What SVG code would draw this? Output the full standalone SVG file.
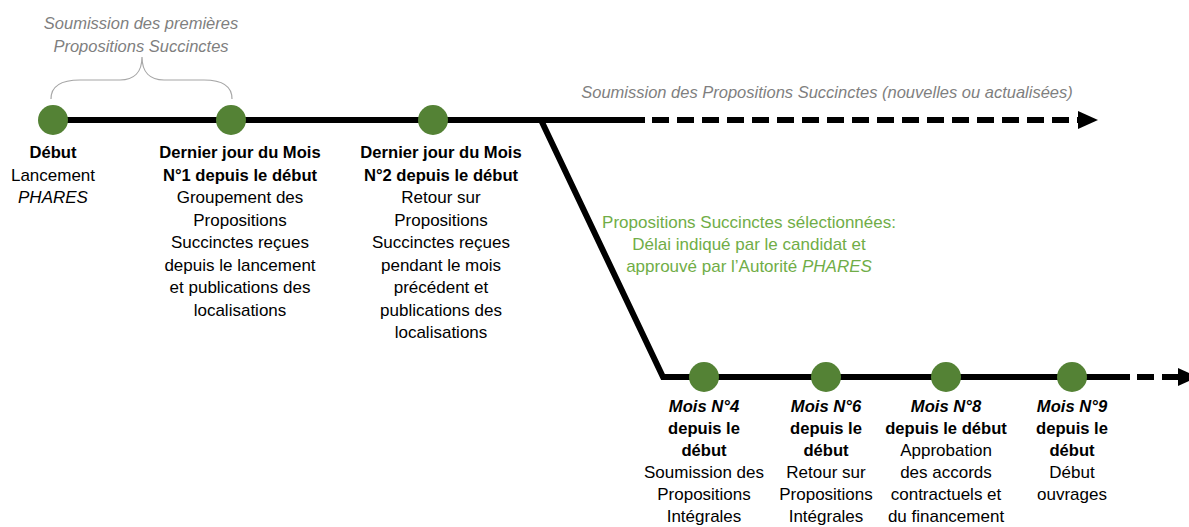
<svg xmlns="http://www.w3.org/2000/svg" width="1189" height="527" viewBox="0 0 1189 527">
<style>
text{font-family:"Liberation Sans",Arial,sans-serif;font-size:17px;fill:#000;text-anchor:middle}
.b{font-weight:bold;font-size:16.6px}
.i{font-style:italic}
.g{fill:#7f7f7f;font-style:italic;font-size:16.5px}
.gr{fill:#70ad47}
.dot{fill:#548235}
.line{stroke:#000;stroke-width:6;fill:none}
.dash{stroke:#000;stroke-width:6;fill:none;stroke-dasharray:17 8}
.brace{stroke:#a6a6a6;stroke-width:1.2;fill:none}
</style>
<defs>
<marker id="arr" markerUnits="userSpaceOnUse" markerWidth="20" markerHeight="20" viewBox="0 0 20 20" refX="2" refY="10" orient="auto">
<path d="M0,1 L20,10 L0,19 Z" fill="#000"/>
</marker>
</defs>
<g id="connectors">
<path class="line" d="M53,120 L645,120"/>
<path class="dash" d="M652,120 L1080,120" marker-end="url(#arr)"/>
<path class="line" d="M541,120 L663,377 L1130,377"/>
<path class="dash" d="M1137,377 L1180,377" marker-end="url(#arr)"/>
<path class="brace" d="M51,99 C51,87 60,80 80,80 L120,80 C134,80 142,72 142,57 C142,72 150,80 164,80 L204,80 C224,80 232,87 232,99"/>
</g>
<g id="brace-label">
<text class="g" x="141" y="29">Soumission des premières</text>
<text class="g" x="141" y="52">Propositions Succinctes</text>
</g>
<g id="label-top">
<text class="g" x="827" y="98">Soumission des Propositions Succinctes (nouvelles ou actualisées)</text>
</g>
<g id="label-selected">
<text class="gr" x="749" y="228">Propositions Succinctes sélectionnées:</text>
<text class="gr" x="749" y="250">Délai indiqué par le candidat et</text>
<text class="gr" x="749" y="272">approuvé par l’Autorité <tspan class="i">PHARES</tspan></text>
</g>
<g id="n-debut">
<circle class="dot" cx="53" cy="120" r="15"/>
<text class="b" x="53" y="158">Début</text>
<text x="53" y="180.5">Lancement</text>
<text class="i" x="53" y="203">PHARES</text>
</g>
<g id="n-mois1">
<circle class="dot" cx="231" cy="120" r="15"/>
<text class="b" x="240" y="158">Dernier jour du Mois</text>
<text class="b" x="240" y="180.5">N°1 depuis le début</text>
<text x="240" y="203">Groupement des</text>
<text x="240" y="225.5">Propositions</text>
<text x="240" y="248">Succinctes reçues</text>
<text x="240" y="270.5">depuis le lancement</text>
<text x="240" y="293">et publications des</text>
<text x="240" y="315.5">localisations</text>
</g>
<g id="n-mois2">
<circle class="dot" cx="433" cy="120" r="15"/>
<text class="b" x="441" y="158">Dernier jour du Mois</text>
<text class="b" x="441" y="180.5">N°2 depuis le début</text>
<text x="441" y="203">Retour sur</text>
<text x="441" y="225.5">Propositions</text>
<text x="441" y="248">Succinctes reçues</text>
<text x="441" y="270.5">pendant le mois</text>
<text x="441" y="293">précédent et</text>
<text x="441" y="315.5">publications des</text>
<text x="441" y="338">localisations</text>
</g>
<g id="n-mois4">
<circle class="dot" cx="704" cy="377" r="15"/>
<text class="b i" x="704" y="412">Mois N°4</text>
<text class="b" x="704" y="434">depuis le</text>
<text class="b" x="704" y="456">début</text>
<text x="704" y="478">Soumission des</text>
<text x="704" y="500">Propositions</text>
<text x="704" y="522">Intégrales</text>
</g>
<g id="n-mois6">
<circle class="dot" cx="826" cy="377" r="15"/>
<text class="b i" x="826" y="412">Mois N°6</text>
<text class="b" x="826" y="434">depuis le</text>
<text class="b" x="826" y="456">début</text>
<text x="826" y="478">Retour sur</text>
<text x="826" y="500">Propositions</text>
<text x="826" y="522">Intégrales</text>
</g>
<g id="n-mois8">
<circle class="dot" cx="946" cy="377" r="15"/>
<text class="b i" x="946" y="412">Mois N°8</text>
<text class="b" x="946" y="434">depuis le début</text>
<text x="946" y="456">Approbation</text>
<text x="946" y="478">des accords</text>
<text x="946" y="500">contractuels et</text>
<text x="946" y="522">du financement</text>
</g>
<g id="n-mois9">
<circle class="dot" cx="1072" cy="377" r="15"/>
<text class="b i" x="1072" y="412">Mois N°9</text>
<text class="b" x="1072" y="434">depuis le</text>
<text class="b" x="1072" y="456">début</text>
<text x="1072" y="478">Début</text>
<text x="1072" y="500">ouvrages</text>
</g>
</svg>
